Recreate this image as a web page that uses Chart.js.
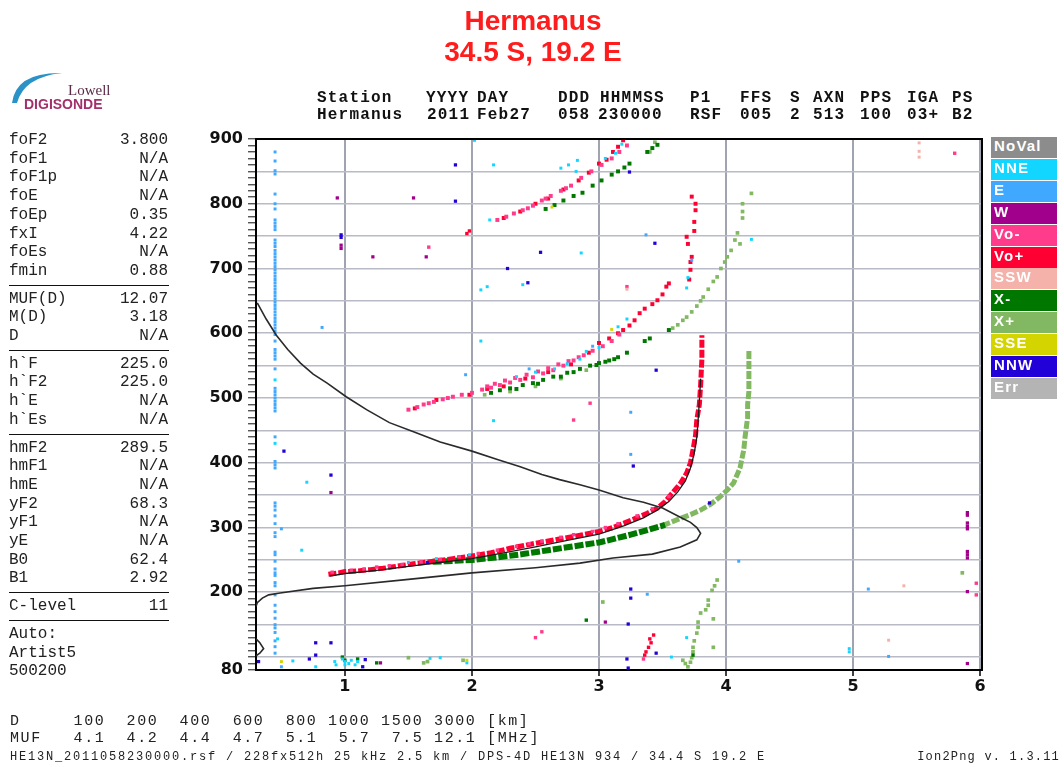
<!DOCTYPE html>
<html>
<head>
<meta charset="utf-8">
<script src="https://cdn.jsdelivr.net/npm/chart.js@4.4.1/dist/chart.umd.min.js"></script>
<style>
  html, body { margin: 0; padding: 0; background: #fff; }
  #page { position: relative; width: 1064px; height: 767px; overflow: hidden; background: #fff; }
  #chartBox { position: absolute; left: 0; top: 0; width: 1064px; height: 767px; }
  .title { position: absolute; left: 0; top: 5px; width: 1066px; text-align: center;
           font: bold 28px "Liberation Sans", Arial, sans-serif; line-height: 31px; color: #ff1c1c; }
  .hdr { position: absolute; font: bold 16px "Liberation Mono", monospace; letter-spacing: 1.2px; color: #111; white-space: pre; }
  .prm { position: absolute; font: 16px "Liberation Mono", monospace; color: #222; white-space: pre; height: 18px; line-height: 18px; }
  .prm.val { text-align: right; width: 90px; }
  .sep { position: absolute; left: 9px; width: 160px; height: 0; border-top: 1.5px solid #111; }
  .leg { position: absolute; left: 991px; width: 66px; height: 21px; line-height: 21px;
         font: bold 15px "Liberation Sans", Arial, sans-serif; letter-spacing: 1.2px; color: #fff; padding-left: 3px; box-sizing: border-box; }
  .foot { position: absolute; font: 15px "Liberation Mono", monospace; letter-spacing: 1.6px; color: #222; white-space: pre; }
  .foot.small { font-size: 12px; letter-spacing: 1.8px; }
</style>
</head>
<body>
<div id="page">
  <div id="chartBox"><canvas id="ionogram" width="1064" height="767"></canvas></div>
  <div class="title">Hermanus<br>34.5 S, 19.2 E</div>
  <svg style="position:absolute;left:0;top:60px" width="130" height="60">
    <path d="M12,43 Q16,12 62,13 Q24,17 17,43 Z" fill="#2a92c6"/>
    <text x="68" y="35" font-family="Liberation Serif, serif" font-size="15" fill="#5a2a48">Lowell</text>
    <text x="24" y="49" font-family="Liberation Sans, Arial, sans-serif" font-size="14" font-weight="bold" fill="#a3306a">DIGISONDE</text>
  </svg>
  <div id="header"></div>
  <div id="params"></div>
  <div id="legend"></div>
  <div class="foot" style="left:10px;top:713px">D     100  200  400  600  800 1000 1500 3000 [km]</div>
  <div class="foot" style="left:10px;top:730px">MUF   4.1  4.2  4.4  4.7  5.1  5.7  7.5 12.1 [MHz]</div>
  <div class="foot small" style="left:10px;top:750px">HE13N_2011058230000.rsf / 228fx512h 25 kHz 2.5 km / DPS-4D HE13N 934 / 34.4 S 19.2 E</div>
  <div class="foot small" style="right:4px;top:750px;letter-spacing:1.2px">Ion2Png v. 1.3.11</div>
</div>
<script>
// axis ticks
const freqTicks = [1, 2, 3, 4, 5, 6];
const heightLabels = [80, 200, 300, 400, 500, 600, 700, 800, 900];

// black curves: true-height profile and fitted virtual height trace
const profileUpper = [[0.31,647],[0.38,622],[0.46,597],[0.55,575],[0.65,554],[0.75,537],[0.86,523],[1.01,502],[1.17,482],
  [1.35,462],[1.54,448],[1.75,432],[2.0,418],[2.2,405],[2.38,394],[2.55,382],[2.69,374],[2.85,366],[3.0,358],[3.19,346],
  [3.35,339],[3.5,330],[3.64,316],[3.72,308],[3.77,300],[3.80,291],[3.77,281],[3.64,270],[3.42,259],[3.11,253],[2.85,245],
  [2.5,238],[2.0,230],[1.5,220],[1.0,210],[0.75,206],[0.49,199],[0.4,196],[0.35,191],[0.31,184],[0.3,178]];
const profileFoot = [[0.3,128],[0.33,122],[0.36,113],[0.33,106],[0.3,102]];
const fitTrace = [[0.88,225],[1.0,229],[1.25,234],[1.5,240],[1.75,246],[2.0,252],[2.25,261],[2.5,270],[2.75,280],[3.0,290],
  [3.2,303],[3.35,315],[3.46,327],[3.55,340],[3.62,355],[3.68,372],[3.72,392],[3.75,415],[3.77,440],[3.78,465],[3.79,495],[3.80,530]];

// first hop traces
const oTrace = [[0.87,228],[0.95,230],[1.0,232],[1.1,233],[1.2,235],[1.3,237],[1.4,240],[1.54,244],[1.7,248],[1.85,252],
  [2.0,256],[2.15,261],[2.3,268],[2.48,275],[2.65,281],[2.85,288],[3.0,294],[3.11,300],[3.25,311],[3.38,322],[3.46,330],
  [3.52,340],[3.58,354],[3.64,368],[3.69,384],[3.72,400],[3.74,420],[3.76,442],[3.77,466],[3.79,490],[3.80,520],[3.81,560],[3.81,597]];
const xTraceLow = [[1.69,247],[1.8,248],[2.0,250],[2.2,254],[2.4,259],[2.6,265],[2.8,271],[3.0,277],[3.11,282],[3.25,289],[3.38,296],[3.52,304]];
const xTraceHigh = [[3.50,303],[3.64,314],[3.72,320],[3.80,327],[3.88,336],[3.95,347],[4.01,358],[4.06,369],[4.11,392],[4.14,420],
  [4.15,440],[4.17,470],[4.17,490],[4.18,510],[4.18,540],[4.18,574]];

// echo dots by polarisation / direction
const voMinusDots = [[1.66,733],[3.22,672],[2.50,130],[2.55,139],[2.80,466],[2.93,492],[5.80,878],[5.97,214],[5.97,196],[3.35,97],
  [0.90,231],[1.05,234],[1.15,236],[1.25,239],[1.35,241],[1.45,243],[1.60,247],[1.75,251],[1.90,255],[2.05,260],[2.20,265],
  [2.35,271],[2.45,275],[2.55,279],[2.70,285],[2.80,289],[2.95,294],[3.05,300],[3.15,306],[3.30,318],[3.42,329],[3.55,348]];
const voMinusHops = [[1.50,482],[1.57,486],[1.62,490],[1.70,494],[1.77,498],[1.85,502],[1.92,505],[2.00,508],[2.08,513],[2.15,516],[2.22,520],
  [2.30,524],[2.38,528],[2.48,532],[2.56,538],[2.64,543],[2.72,550],[2.80,558],[2.88,566],[2.95,573],[3.03,580],[3.10,588],[3.16,598],
  [2.12,518],[2.18,522],[2.26,527],[2.34,531],[2.43,536],[2.52,541],[2.60,546],[2.68,552],[2.76,557],[2.84,563],[1.66,492],[1.81,500],
  [2.20,775],[2.27,780],[2.33,785],[2.40,790],[2.48,797],[2.55,805],[2.62,812],[2.70,820],[2.78,828],[2.86,840],[2.94,850],
  [3.02,860],[3.10,870],[3.16,880],[3.22,890],[2.44,793],[2.58,808],[2.74,824]];
const voPlusDots = [[1.98,758],[1.96,754],[3.37,108],[3.39,115],[3.40,128],[3.43,134],[3.41,122],[3.36,103]];
const voPlusHops = [[1.55,484],[1.72,497],[1.98,505],[2.12,514],[2.25,518],[2.42,530],[2.60,540],[2.78,552],[2.92,570],[3.00,585],[3.08,592],
  [3.15,600],[3.19,605],[3.24,612],[3.28,620],[3.32,631],[3.36,638],[3.42,645],[3.46,651],[3.50,660],[3.53,672],[3.55,677],
  [3.71,683],[3.72,698],[3.72,710],[3.73,718],[3.70,738],[3.69,749],[3.75,758],[3.75,772],[3.76,790],[3.76,800],[3.73,811],
  [2.25,778],[2.38,788],[2.50,800],[2.60,808],[2.72,822],[2.84,836],[2.92,848],[3.00,862],[3.06,868],[3.11,880],[3.15,888],[3.19,898]];
const xMinusDots = [[2.90,157],[0.98,100],[1.10,97],[1.25,91],[1.00,95],[3.74,103]];
const xMinusHops = [[2.15,508],[2.22,512],[2.30,515],[2.40,520],[2.48,523],[2.56,528],[2.64,533],[2.75,539],[2.85,545],[2.93,550],
  [3.00,554],[3.08,558],[3.15,563],[3.22,570],[3.36,588],[3.40,592],[3.55,605],[2.35,514],[2.52,522],[2.70,533],[2.80,540],
  [2.98,551],[3.05,556],[3.12,560],
  [2.58,792],[2.65,798],[2.72,805],[2.80,812],[2.87,817],[2.95,828],[3.02,836],[3.10,845],[3.15,850],[3.20,856],[3.24,862],
  [3.38,880],[3.42,886],[3.46,891]];
const xPlusDots = [[2.10,505],[2.30,510],[2.50,518],[2.70,530],[2.90,543],[3.58,608],[3.62,613],[3.66,620],[3.69,625],[3.73,633],
  [3.77,642],[3.80,650],[3.82,656],[3.86,668],[3.90,680],[3.93,687],[3.96,700],[3.99,710],[4.01,718],[4.04,728],[4.07,744],
  [4.09,755],[4.11,738],[4.13,778],[4.13,788],[4.13,800],[4.20,816],[3.40,880],[3.44,895],
  [3.70,85],[3.72,92],[3.73,99],[3.74,108],[3.74,115],[3.75,125],[3.77,137],[3.78,146],[3.78,154],[3.80,168],[3.84,173],
  [3.86,180],[3.86,188],[3.89,203],[3.91,210],[3.93,219],[3.90,159],[3.90,115],[3.66,95],[3.68,90],
  [1.50,99],[1.65,93],[1.62,91],[1.93,95],[3.03,185],[5.86,230]];
const eDots = [[0.45,880],[0.45,866],[0.45,851],[0.45,846],[0.45,815],[0.45,800],[0.45,792],[0.45,775],[0.45,770],[0.45,765],
  [0.45,760],[0.45,744],[0.45,739],[0.45,734],[0.45,728],[0.45,723],[0.45,718],[0.45,713],[0.45,708],[0.45,703],[0.45,698],
  [0.45,693],[0.45,688],[0.45,683],[0.45,678],[0.45,673],[0.45,668],[0.45,663],[0.45,658],[0.45,653],[0.45,648],[0.45,643],
  [0.45,638],[0.45,633],[0.45,628],[0.45,623],[0.45,618],[0.45,613],[0.45,608],[0.45,603],[0.45,598],[0.45,588],[0.45,575],
  [0.45,570],[0.45,565],[0.45,560],[0.45,545],[0.45,515],[0.45,510],[0.45,505],[0.45,500],[0.45,495],[0.45,490],[0.45,485],
  [0.45,480],[0.45,440],[0.45,402],[0.45,397],[0.45,392],[0.45,338],[0.45,333],[0.45,327],[0.45,318],[0.45,306],[0.45,292],
  [0.45,286],[0.45,262],[0.45,258],[0.45,248],[0.45,236],[0.45,230],[0.45,226],[0.45,215],[0.45,210],[0.45,196],[0.45,180],
  [0.45,170],[0.45,160],[0.45,150],[0.45,145],[0.45,138],[0.45,125],[0.45,116],[0.45,106],
  [0.50,298],[0.50,85],[0.82,609],[1.95,536],[3.37,752],[3.25,478],[3.25,413],[3.38,197],[4.10,248],[5.12,205],[5.28,101],
  [1.50,246],[2.45,545],[2.95,580],[3.73,713]];
const nneDots = [[0.45,528],[0.45,430],[0.47,128],[0.70,370],[0.66,265],[2.02,898],[2.17,860],[2.14,775],[2.12,672],[2.07,667],
  [2.40,675],[2.86,724],[2.07,588],[4.20,745],[2.17,465],[0.77,85],[0.59,94],[0.92,93],[0.93,88],[0.98,97],[1.00,93],[1.00,88],
  [1.03,90],[1.05,95],[1.08,88],[1.10,93],[1.67,98],[1.75,99],[1.96,91],[4.97,113],[4.97,108],[3.57,100],[3.69,130],[3.69,670],
  [3.70,686],[2.70,855],[2.76,860],[2.82,850],[2.83,867],[3.05,870],[3.13,878],[3.18,892],[2.35,533],[2.50,540],[2.65,545],
  [2.75,553],[2.85,560],[2.90,572],[3.00,578],[3.15,610],[3.22,622],[1.72,252],[1.98,258]];
const wDots = [[0.94,809],[0.97,736],[0.97,731],[1.22,718],[1.54,809],[1.64,718],[0.89,354],[1.28,91],[3.05,154],
  [5.90,323],[5.90,319],[5.90,307],[5.90,302],[5.90,298],[5.90,263],[5.90,258],[5.90,253],[5.90,201],[5.90,90]];
const nnwDots = [[0.97,752],[0.97,748],[1.87,860],[1.87,804],[2.28,700],[2.44,678],[2.54,725],[3.44,739],[3.45,543],[0.52,418],
  [0.89,381],[0.77,122],[0.89,122],[0.77,103],[0.72,97],[0.32,93],[1.16,96],[1.14,85],[3.27,395],[3.87,338],[3.25,205],
  [3.25,191],[3.23,151],[3.45,106],[3.22,97],[3.23,83],[1.65,246],[3.24,849]];
const sswDots = [[5.52,894],[5.52,881],[5.52,872],[3.22,668],[5.40,210],[5.28,126]];
const sseDots = [[0.50,93],[1.96,95],[2.63,795],[3.10,606]];

// legend
const legendNames  = ['NoVal','NNE','E','W','Vo-','Vo+','SSW','X-','X+','SSE','NNW','Err'];
const legendColors = ['#8c8c8c','#12d6ff','#40a8ff','#a0008c','#ff3c8c','#ff0033','#f4b2aa','#007800','#82b862','#d4d400','#2200d8','#b4b4b4'];
const col = n => legendColors[legendNames.indexOf(n)];

// left parameter panel
const paramRows = [['foF2','3.800'],['foF1','N/A'],['foF1p','N/A'],['foE','N/A'],['foEp','0.35'],['fxI','4.22'],['foEs','N/A'],['fmin','0.88'],
  null,['MUF(D)','12.07'],['M(D)','3.18'],['D','N/A'],null,['h`F','225.0'],['h`F2','225.0'],['h`E','N/A'],['h`Es','N/A'],null,
  ['hmF2','289.5'],['hmF1','N/A'],['hmE','N/A'],['yF2','68.3'],['yF1','N/A'],['yE','N/A'],['B0','62.4'],['B1','2.92'],null,
  ['C-level','11'],null,['Auto:',''],['Artist5',''],['500200','']];

const headerRow1 = [[317,'Station'],[426,'YYYY'],[477,'DAY'],[558,'DDD'],[600,'HHMMSS'],[690,'P1'],[740,'FFS'],[790,'S'],[813,'AXN'],[860,'PPS'],[907,'IGA'],[952,'PS']];
const headerRow2 = [[317,'Hermanus'],[427,'2011'],[477,'Feb27'],[558,'058'],[598,'230000'],[690,'RSF'],[740,'005'],[790,'2'],[813,'513'],[860,'100'],[907,'03+'],[952,'B2']];

// ---- build html parts
const hdr = document.getElementById('header');
[[headerRow1, 89], [headerRow2, 106]].forEach(([row, top]) => {
  row.forEach(([x, t]) => {
    const d = document.createElement('div');
    d.className = 'hdr'; d.style.left = x + 'px'; d.style.top = top + 'px'; d.textContent = t;
    hdr.appendChild(d);
  });
});

const prm = document.getElementById('params');
let py = 140;
paramRows.forEach(r => {
  if (!r) {
    const s = document.createElement('div');
    s.className = 'sep'; s.style.top = (py - 4.7) + 'px';
    prm.appendChild(s);
    py += 9;
    return;
  }
  const a = document.createElement('div');
  a.className = 'prm'; a.style.left = '9px'; a.style.top = (py - 9) + 'px'; a.textContent = r[0];
  prm.appendChild(a);
  if (r[1]) {
    const b = document.createElement('div');
    b.className = 'prm val'; b.style.left = '78px'; b.style.top = (py - 9) + 'px'; b.textContent = r[1];
    prm.appendChild(b);
  }
  py += 18.7;
});

const leg = document.getElementById('legend');
legendNames.forEach((n, i) => {
  const d = document.createElement('div');
  d.className = 'leg'; d.style.top = (137 + i * 21.9) + 'px'; d.style.background = legendColors[i]; d.textContent = n;
  leg.appendChild(d);
});

// ---- chart
const toXY = arr => arr.map(p => ({ x: p[0], y: p[1] }));
const dots = (label, data, color, r) => ({
  label, data: toXY(data), backgroundColor: color, borderColor: color,
  pointStyle: 'rect', pointRadius: r || 2.1, pointBorderWidth: 0, showLine: false
});
const curve = (label, data, color, w, extra) => Object.assign({
  label, data: toXY(data), borderColor: color, backgroundColor: color, borderWidth: w,
  showLine: true, pointRadius: 0, tension: 0, fill: false
}, extra || {});

const tickFont = { family: 'DejaVu Sans', size: 16, weight: 'bold' };

const frame = {
  id: 'frame',
  afterDraw(chart) {
    const { ctx, chartArea: a } = chart;
    ctx.save();
    ctx.strokeStyle = '#000'; ctx.lineWidth = 2;
    ctx.beginPath();
    ctx.moveTo(a.left, a.top); ctx.lineTo(a.right, a.top); ctx.lineTo(a.right, a.bottom);
    ctx.stroke();
    ctx.restore();
  }
};

new Chart(document.getElementById('ionogram'), {
  type: 'scatter',
  data: {
    datasets: [
      curve('fit', fitTrace, '#1a1a1a', 1.3),
      curve('profile', profileUpper, '#2a2a2a', 1.6),
      curve('profileFoot', profileFoot, '#2a2a2a', 1.6),
      dots('W', wDots, col('W'), 2.3),
      dots('NNW', nnwDots, col('NNW'), 2.3),
      dots('SSE', sseDots, col('SSE'), 2.1),
      dots('SSW', sswDots, col('SSW'), 2.1),
      dots('NNE', nneDots, col('NNE'), 2.1),
      dots('E', eDots, col('E'), 2.1),
      dots('Vo-', voMinusDots, col('Vo-'), 2.4),
      dots('Vo- hops', voMinusHops, col('Vo-'), 2.8),
      dots('Vo+', voPlusDots, col('Vo+'), 2.4),
      dots('Vo+ hops', voPlusHops, col('Vo+'), 2.8),
      dots('X-', xMinusDots, col('X-'), 2.4),
      dots('X- hops', xMinusHops, col('X-'), 2.8),
      dots('X+', xPlusDots, col('X+'), 2.6),
      curve('O trace', oTrace, col('Vo+'), 5, { borderDash: [8, 2] }),
      curve('X trace low', xTraceLow, col('X-'), 6, { borderDash: [9, 2] }),
      curve('X trace high', xTraceHigh, col('X+'), 5, { borderDash: [8, 2] })
    ]
  },
  options: {
    responsive: false,
    animation: false,
    devicePixelRatio: 1,
    layout: { padding: { left: 0, top: 139, right: 82, bottom: 67 } },
    plugins: { legend: { display: false }, tooltip: { enabled: false } },
    scales: {
      x: {
        type: 'linear', min: 0.3, max: 6.015,
        afterBuildTicks: s => { s.ticks = freqTicks.map(v => ({ value: v })); },
        afterFit: s => { s.height = 30; },
        grid: { color: '#a0a4b0', lineWidth: 2, tickColor: '#000', tickLength: 6, tickWidth: 1.5 },
        border: { color: '#000', width: 2 },
        ticks: { font: tickFont, color: '#111', padding: 1, autoSkip: false, maxRotation: 0 }
      },
      y: {
        type: 'linear', min: 80, max: 900,
        afterBuildTicks: s => {
          const t = [];
          for (let v = 80; v <= 900; v += 10) t.push({ value: v });
          s.ticks = t;
        },
        afterFit: s => { s.width = 256; },
        grid: {
          color: c => (c.tick && c.tick.value % 50 === 0 && c.tick.value > 80 && c.tick.value < 900) ? '#b8bbc6' : 'rgba(0,0,0,0)',
          lineWidth: 1.6, tickColor: '#111', tickLength: 8, tickWidth: 1
        },
        border: { color: '#000', width: 2 },
        ticks: {
          font: tickFont, color: '#111', padding: 5, autoSkip: false,
          callback: v => heightLabels.includes(v) ? String(v) : ''
        }
      }
    }
  },
  plugins: [frame]
});
</script>
</body>
</html>
